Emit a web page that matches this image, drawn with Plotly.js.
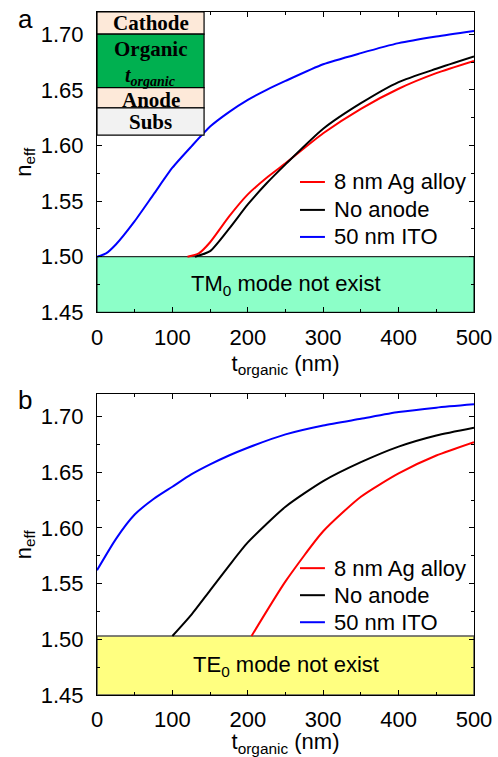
<!DOCTYPE html>
<html>
<head>
<meta charset="utf-8">
<script src="https://cdn.plot.ly/plotly-3.0.1.min.js"></script>
<style>html,body{margin:0;padding:0;background:#fff;}#chart{width:498px;height:757px;}</style>
</head>
<body>
<div id="chart"></div>
<script>
// ---- Panel a (TM0) ----
var aBlueX  = [0, 12, 25, 50, 75, 100, 125, 150, 175, 200, 225, 250, 300, 350, 400, 450, 500];
var aBlueY  = [1.500, 1.503, 1.511, 1.532, 1.556, 1.580, 1.599, 1.617, 1.630, 1.641, 1.650, 1.658, 1.673, 1.683, 1.692, 1.698, 1.703];
var aBlackX = [130, 150, 175, 200, 225, 250, 300, 350, 400, 450, 500];
var aBlackY = [1.500, 1.505, 1.525, 1.547, 1.566, 1.583, 1.615, 1.638, 1.657, 1.669, 1.680];
var aRedX   = [120, 135, 150, 175, 200, 225, 250, 300, 350, 400, 450, 500];
var aRedY   = [1.500, 1.503, 1.513, 1.536, 1.556, 1.571, 1.584, 1.611, 1.633, 1.651, 1.665, 1.676];
// ---- Panel b (TE0) ----
var bBlueX  = [0, 25, 50, 75, 100, 125, 150, 175, 200, 250, 300, 350, 400, 450, 500];
var bBlueY  = [1.562, 1.590, 1.612, 1.626, 1.637, 1.648, 1.657, 1.665, 1.672, 1.684, 1.692, 1.698, 1.704, 1.708, 1.711];
var bBlackX = [100, 125, 150, 175, 200, 250, 300, 350, 400, 450, 500];
var bBlackY = [1.503, 1.522, 1.544, 1.566, 1.587, 1.619, 1.642, 1.659, 1.673, 1.683, 1.690];
var bRedX   = [205, 250, 300, 350, 400, 450, 500];
var bRedY   = [1.503, 1.552, 1.597, 1.628, 1.649, 1.665, 1.677];

var seriesNames = ["8 nm Ag alloy", "No anode", "50 nm ITO"];
var seriesColors = ["#ff0000", "#000000", "#0000ff"];
var xTicks = [0, 100, 200, 300, 400, 500];
var yTicks = [1.45, 1.50, 1.55, 1.60, 1.65, 1.70];
var xRange = [0, 500];
var yRange = [1.45, 1.72];
var boxTopA = 1.50, boxTopB = 1.503;

var FONT = "Liberation Sans, Arial, sans-serif";
var SERIF = "Liberation Serif, Times New Roman, serif";
var FS = 22;

function tr(x, y, i, xa, ya) {
  return {x: x, y: y, type: "scatter", mode: "lines", name: seriesNames[i], showlegend: false,
    line: {color: seriesColors[i], width: 2, shape: "spline", smoothing: 0.6}, xaxis: xa, yaxis: ya};
}
var data = [
  tr(aRedX, aRedY, 0, "x", "y"),
  tr(aBlackX, aBlackY, 1, "x", "y"),
  tr(aBlueX, aBlueY, 2, "x", "y"),
  tr(bRedX, bRedY, 0, "x2", "y2"),
  tr(bBlackX, bBlackY, 1, "x2", "y2"),
  tr(bBlueX, bBlueY, 2, "x2", "y2")
];

function xax(anchor) {
  return {anchor: anchor, domain: [0, 1], range: xRange, tickvals: xTicks,
    ticks: "inside", ticklen: 5, tickcolor: "#000", showline: true, linecolor: "#000", linewidth: 1,
    mirror: "ticks", showgrid: false, zeroline: false, ticklabelstandoff: 5,
    minor: {dtick: 50, tick0: 0, ticks: "inside", ticklen: 3, tickcolor: "#000"},
    tickfont: {family: FONT, size: FS, color: "#000"},
    title: {text: "t<sub>organic</sub> (nm)", font: {family: FONT, size: FS, color: "#000"}, standoff: 6}};
}
function yax(anchor, dom) {
  return {anchor: anchor, domain: dom, range: yRange, tickvals: yTicks, tickformat: ".2f",
    ticks: "inside", ticklen: 5, tickcolor: "#000", showline: true, linecolor: "#000", linewidth: 1,
    mirror: "ticks", showgrid: false, zeroline: false, ticklabelstandoff: 8,
    minor: {dtick: 0.025, tick0: 1.45, ticks: "inside", ticklen: 3, tickcolor: "#000"},
    tickfont: {family: FONT, size: FS, color: "#000"},
    title: {text: "n<sub>eff</sub>", font: {family: FONT, size: FS, color: "#000"}, standoff: 3}};
}

var shapes = [
  {type: "rect", xref: "x", yref: "y", x0: xRange[0], x1: xRange[1], y0: yRange[0], y1: boxTopA,
   fillcolor: "#8cffc8", line: {color: "#000", width: 1}, layer: "below"},
  {type: "rect", xref: "x2", yref: "y2", x0: xRange[0], x1: xRange[1], y0: yRange[0], y1: boxTopB,
   fillcolor: "#ffff80", line: {color: "#555", width: 1.5}, layer: "below"}
];
// inset layer stack (panel a), in axis-domain units
var insetX1 = 0.284;
var layerEdges = [1.0, 0.926, 0.748, 0.681, 0.590];
var layerFills = ["#fde9d9", "#00b050", "#fde9d9", "#f2f2f2"];
for (var i = 0; i < 4; i++) {
  shapes.push({type: "rect", xref: "x domain", yref: "y domain", x0: 0, x1: insetX1,
    y0: layerEdges[i + 1], y1: layerEdges[i], fillcolor: layerFills[i],
    line: {color: "#000", width: 1.2}, layer: "above"});
}

var annotations = [
  {text: "a", xref: "paper", yref: "paper", x: -0.215, y: 0.99, xanchor: "left", yanchor: "middle",
   showarrow: false, font: {family: FONT, size: 26, color: "#000"}},
  {text: "b", xref: "paper", yref: "paper", x: -0.215, y: 0.432, xanchor: "left", yanchor: "middle",
   showarrow: false, font: {family: FONT, size: 26, color: "#000"}},
  {text: "TM<sub>0</sub> mode not exist", xref: "x", yref: "y", x: 250, y: 1.475, showarrow: false,
   font: {family: FONT, size: FS, color: "#000"}},
  {text: "TE<sub>0</sub> mode not exist", xref: "x2", yref: "y2", x: 250, y: 1.476, showarrow: false,
   font: {family: FONT, size: FS, color: "#000"}}
];
var insetTextY = [0.963, 0.878, 0.786, 0.708, 0.633];
var insetTexts = ["<b>Cathode</b>", "<b>Organic</b>", "<b><i>t<sub>organic</sub></i></b>", "<b>Anode</b>", "<b>Subs</b>"];
var insetSizes = [21, 21, 20, 21, 21];
for (var j = 0; j < insetTexts.length; j++) {
  annotations.push({text: insetTexts[j], xref: "x domain", yref: "y domain", x: insetX1 / 2, y: insetTextY[j],
    showarrow: false, xanchor: "center", yanchor: "middle", font: {family: SERIF, size: insetSizes[j], color: "#000"}});
}

// legends (one per panel), drawn from the series names/colours
var legRows = {y: [0.434, 0.341, 0.251], y2: [0.4218, 0.3319, 0.2420]};
var legLineX = [0.5384, 0.6046], legTextX = 0.6231;
["y", "y2"].forEach(function (ya) {
  var xa = ya === "y" ? "x" : "x2";
  for (var k = 0; k < seriesNames.length; k++) {
    shapes.push({type: "line", xref: xa + " domain", yref: ya + " domain",
      x0: legLineX[0], x1: legLineX[1], y0: legRows[ya][k], y1: legRows[ya][k],
      line: {color: seriesColors[k], width: 2}});
    annotations.push({text: seriesNames[k], xref: xa + " domain", yref: ya + " domain",
      x: legTextX, y: legRows[ya][k], xanchor: "left", yanchor: "middle", showarrow: false,
      font: {family: FONT, size: FS, color: "#000"}});
  }
});

var layout = {
  width: 498, height: 757,
  margin: {l: 97, r: 24, t: 12, b: 62},
  paper_bgcolor: "#fff", plot_bgcolor: "#fff",
  showlegend: false,
  xaxis: xax("y"), yaxis: yax("x", [0.5603, 1]),
  xaxis2: xax("y2"), yaxis2: yax("x2", [0, 0.4403]),
  shapes: shapes,
  annotations: annotations
};
Plotly.newPlot("chart", data, layout, {staticPlot: true});
</script>
</body>
</html>
